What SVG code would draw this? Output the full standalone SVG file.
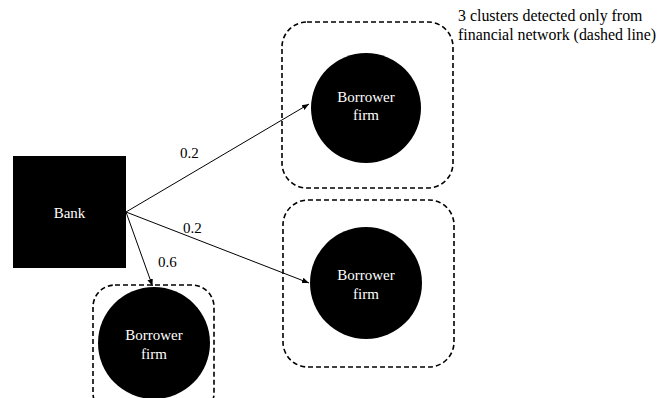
<svg xmlns="http://www.w3.org/2000/svg" width="657" height="398" viewBox="0 0 657 398">
<style>
text{font-family:"Liberation Serif","Times New Roman",serif;font-size:15px}
.w{fill:#fff;text-anchor:middle}
.k{fill:#000}
.n{font-size:15.9px}
.cl{fill:none;stroke:#000;stroke-width:1.6;stroke-dasharray:5 3}
.e{stroke:#000;stroke-width:1;fill:none;marker-end:url(#ah)}
</style>
<defs>
<marker id="ah" viewBox="0 0 10 10" refX="10" refY="5" markerWidth="7" markerHeight="7" markerUnits="userSpaceOnUse" orient="auto">
<path d="M0,1 L10,5 L0,9 z" fill="#000"/>
</marker>
</defs>
<g id="clusters">
<rect class="cl" x="282" y="22" width="171" height="166" rx="25"/>
<rect class="cl" x="283" y="200" width="171" height="167" rx="25"/>
<rect class="cl" x="93" y="285" width="121" height="130" rx="22"/>
</g>
<g id="bank">
<rect x="13" y="156" width="113" height="112" fill="#000"/>
<text class="w" x="69.5" y="218">Bank</text>
</g>
<g id="firm1">
<circle cx="366" cy="108" r="55" fill="#000"/>
<text class="w" x="366" y="102">Borrower</text>
<text class="w" x="366" y="120">firm</text>
</g>
<g id="firm2">
<circle cx="366" cy="283" r="56" fill="#000"/>
<text class="w" x="366" y="280">Borrower</text>
<text class="w" x="366" y="299">firm</text>
</g>
<g id="firm3">
<circle cx="154" cy="343" r="56" fill="#000"/>
<text class="w" x="154" y="340">Borrower</text>
<text class="w" x="154" y="359">firm</text>
</g>
<g id="connectors">
<line class="e" x1="126" y1="212" x2="309" y2="104"/>
<line class="e" x1="126" y1="212" x2="309" y2="283"/>
<line class="e" x1="126" y1="212" x2="152.5" y2="286"/>
<text class="k" x="180" y="158">0.2</text>
<text class="k" x="183" y="233">0.2</text>
<text class="k" x="158" y="267">0.6</text>
</g>
<g id="note">
<text class="k n" x="458" y="21">3 clusters detected only from</text>
<text class="k n" x="458" y="40">financial network (dashed line)</text>
</g>
</svg>
